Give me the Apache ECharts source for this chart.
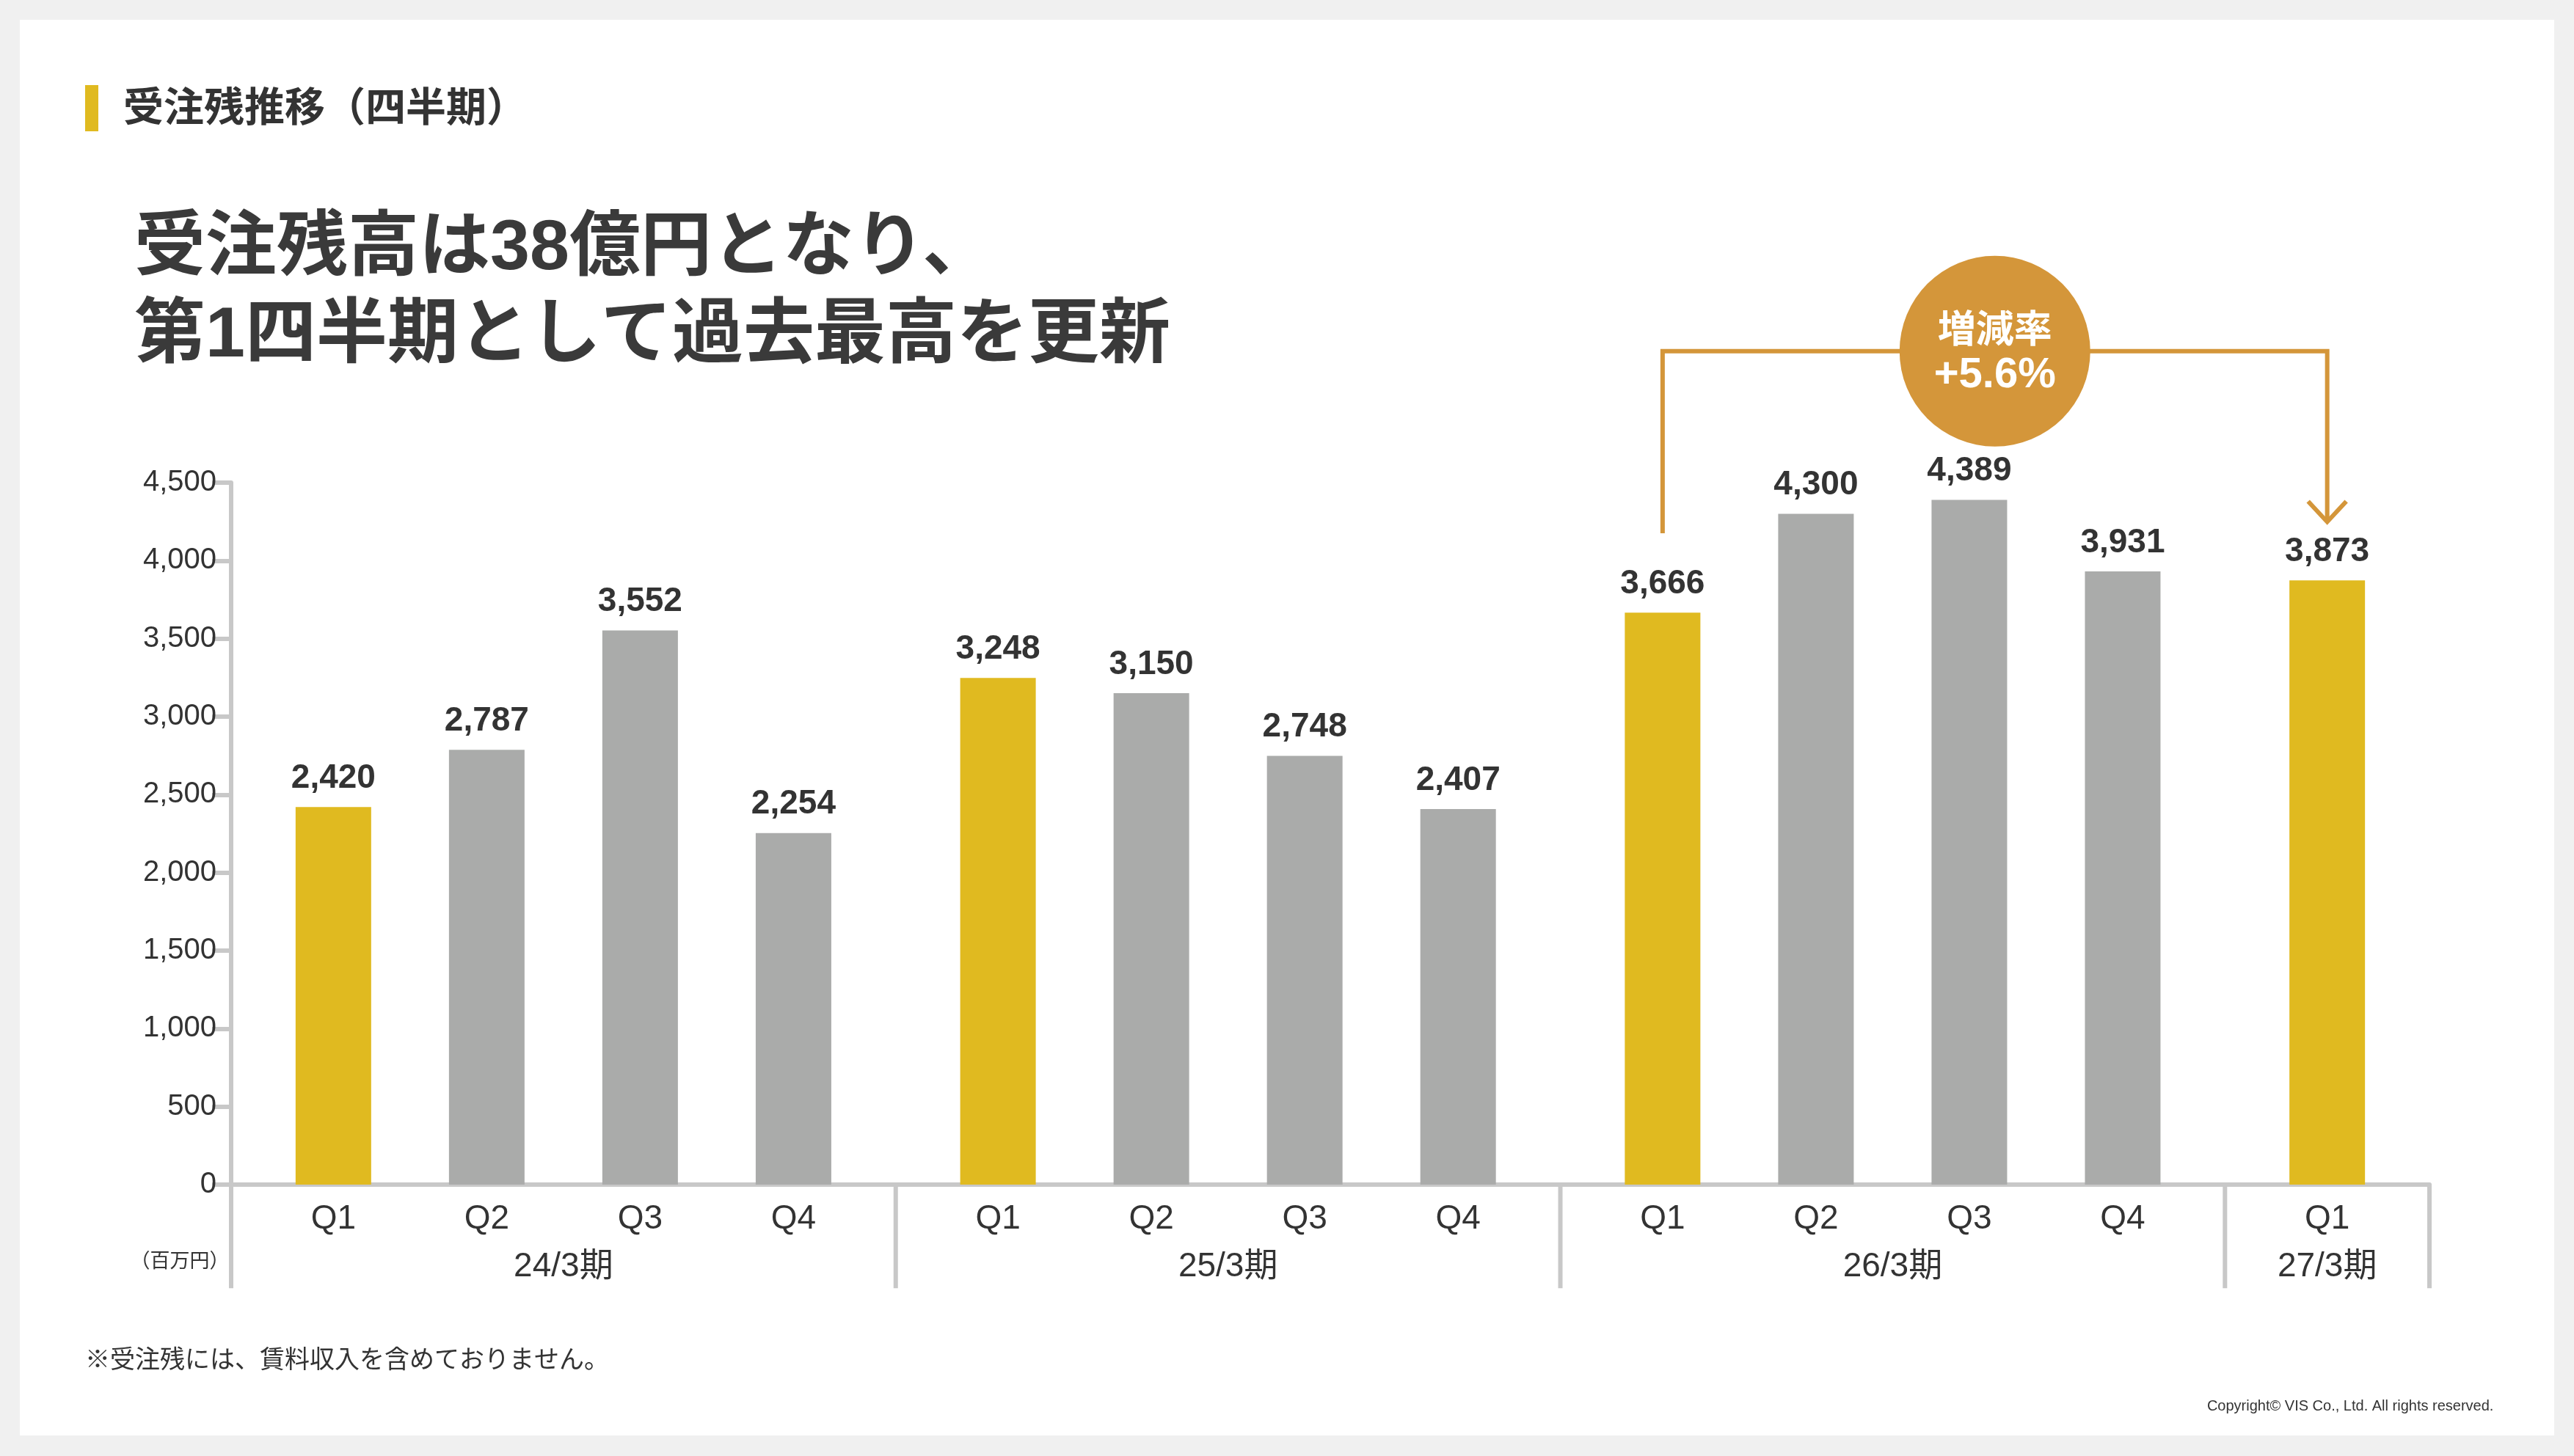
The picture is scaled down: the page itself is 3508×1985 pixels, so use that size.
<!DOCTYPE html>
<html><head><meta charset="utf-8">
<script src="https://cdn.jsdelivr.net/npm/echarts@6/dist/echarts.min.js"></script>
<style>
html,body{margin:0;padding:0;background:#f0f0f0;}
#card{position:absolute;left:27px;top:27px;width:3454px;height:1930px;background:#fff;}
#c{position:absolute;left:0;top:0;width:3508px;height:1985px;}
</style></head>
<body><div id="card"></div><div id="c"></div>
<script>
const periods = ['24/3期','25/3期','26/3期','27/3期'];
const quarters = [['Q1','Q2','Q3','Q4'],['Q1','Q2','Q3','Q4'],['Q1','Q2','Q3','Q4'],['Q1']];
const values = [[2420,2787,3552,2254],[3248,3150,2748,2407],[3666,4300,4389,3931],[3873]];
const yTickLabels = ['0','500','1,000','1,500','2,000','2,500','3,000','3,500','4,000','4,500'];
const headline = ['受注残高は38億円となり、','第1四半期として過去最高を更新'];
const changeRate = '+5.6%';

const S = 3508/1568;
const FONT = '"Liberation Sans","Noto Sans CJK JP",sans-serif';
const YELLOW = '#E0BA20', GRAY = '#AAABAA', ORANGE = '#D4963A', TXT = '#333333';

const slotIdx = [];
let next = 2;
quarters.forEach(g => { const arr=[]; g.forEach(()=>{arr.push(next); next+=3;}); slotIdx.push(arr); next += 1; });
const N = next - 1;
const cats = new Array(N).fill('');
const data = new Array(N).fill('-');
quarters.forEach((g,gi)=>g.forEach((q,qi)=>{
  const s = slotIdx[gi][qi];
  cats[s] = q;
  data[s] = {value: values[gi][qi], itemStyle:{color: q==='Q1'?YELLOW:GRAY}};
}));

const chart = echarts.init(document.getElementById('c'));
const gridL = 315, gridR = 197, gridT = 658, gridB = 370;
chart.setOption({
  animation:false,
  grid:{left:gridL,right:gridR,top:gridT,bottom:gridB},
  xAxis:{type:'category',data:cats,boundaryGap:false,
    axisLine:{lineStyle:{color:'#c8c8c8',width:6}},
    axisTick:{show:false},
    axisLabel:{interval:0,color:TXT,fontSize:46,fontFamily:FONT,margin:24}},
  yAxis:{type:'value',min:0,max:4500,interval:500,
    axisLine:{show:true,lineStyle:{color:'#c8c8c8',width:6}},
    axisTick:{show:true,length:26,lineStyle:{color:'#c8c8c8',width:6}},
    splitLine:{show:false},
    axisLabel:{color:TXT,fontSize:40,fontFamily:FONT,margin:20,
      formatter:(v)=>yTickLabels[Math.round(v/500)]}},
  series:[{type:'bar',data:data,barWidth:103,
    label:{show:true,position:'top',distance:16,color:TXT,fontSize:46,fontWeight:'bold',fontFamily:FONT,
      formatter:p=>p.value.toLocaleString('en-US')}}]
});

const g = [];
g.push({type:'rect',shape:{x:116,y:116,width:18,height:63},style:{fill:YELLOW}});
g.push({type:'text',x:168,y:150,style:{text:'受注残推移（四半期）',font:'bold 55px '+FONT,fill:TXT,textVerticalAlign:'middle'}});
g.push({type:'text',x:183,y:340,style:{text:headline[0],font:'bold 97px '+FONT,fill:'#3a3a3a',textVerticalAlign:'middle'}});
g.push({type:'text',x:183,y:459,style:{text:headline[1],font:'bold 97px '+FONT,fill:'#3a3a3a',textVerticalAlign:'middle'}});
const yAx = 1985-gridB;
const sepBottom = 785*S;
const bounds = [gridL];
for (let gi=0; gi<slotIdx.length-1; gi++) {
  const a = chart.convertToPixel({xAxisIndex:0}, slotIdx[gi][slotIdx[gi].length-1]);
  const b = chart.convertToPixel({xAxisIndex:0}, slotIdx[gi+1][0]);
  bounds.push((a+b)/2);
}
bounds.push(3508-gridR);
bounds.forEach(x=>g.push({type:'line',shape:{x1:x,y1:yAx,x2:x,y2:sepBottom},style:{stroke:'#c8c8c8',lineWidth:6}}));
periods.forEach((p,gi)=>{
  const a = chart.convertToPixel({xAxisIndex:0}, slotIdx[gi][0]);
  const b = chart.convertToPixel({xAxisIndex:0}, slotIdx[gi][slotIdx[gi].length-1]);
  g.push({type:'text',x:(a+b)/2,y:772*S,style:{text:p,font:'46px '+FONT,fill:TXT,textAlign:'center',textVerticalAlign:'middle'}});
});
g.push({type:'text',x:245,y:768*S,style:{text:'（百万円）',font:'27px "Noto Sans CJK JP"',fill:TXT,textAlign:'center',textVerticalAlign:'middle'}});
const x1 = chart.convertToPixel({xAxisIndex:0}, slotIdx[2][0]);
const x2 = chart.convertToPixel({xAxisIndex:0}, slotIdx[3][0]);
const yTop = 214*S, y1b = 325*S, y2b = 318*S;
g.push({type:'polyline',shape:{points:[[x1,y1b],[x1,yTop],[x2,yTop],[x2,y2b]]},style:{stroke:ORANGE,lineWidth:6,fill:null}});
g.push({type:'polyline',shape:{points:[[x2-26,y2b-28],[x2,y2b],[x2+26,y2b-28]]},style:{stroke:ORANGE,lineWidth:6,fill:null}});
const cx = (x1+x2)/2;
g.push({type:'circle',shape:{cx:cx,cy:yTop,r:130},style:{fill:ORANGE}});
g.push({type:'text',x:cx,y:200*S,style:{text:'増減率',font:'bold 52px "Noto Sans CJK JP"',fill:'#fff',textAlign:'center',textVerticalAlign:'middle'}});
g.push({type:'text',x:cx,y:229*S,style:{text:changeRate,font:'bold 58px '+FONT,fill:'#fff',textAlign:'center',textVerticalAlign:'middle'}});
g.push({type:'text',x:116,y:828*S,style:{text:'※受注残には、賃料収入を含めておりません。',font:'34px "Noto Sans CJK JP"',fill:TXT,textVerticalAlign:'middle'}});
g.push({type:'text',x:1519*S,y:857*S,style:{text:'Copyright© VIS Co., Ltd. All rights reserved.',font:'20px '+FONT,fill:TXT,textAlign:'right',textVerticalAlign:'middle'}});
chart.setOption({graphic:g});
</script></body></html>
